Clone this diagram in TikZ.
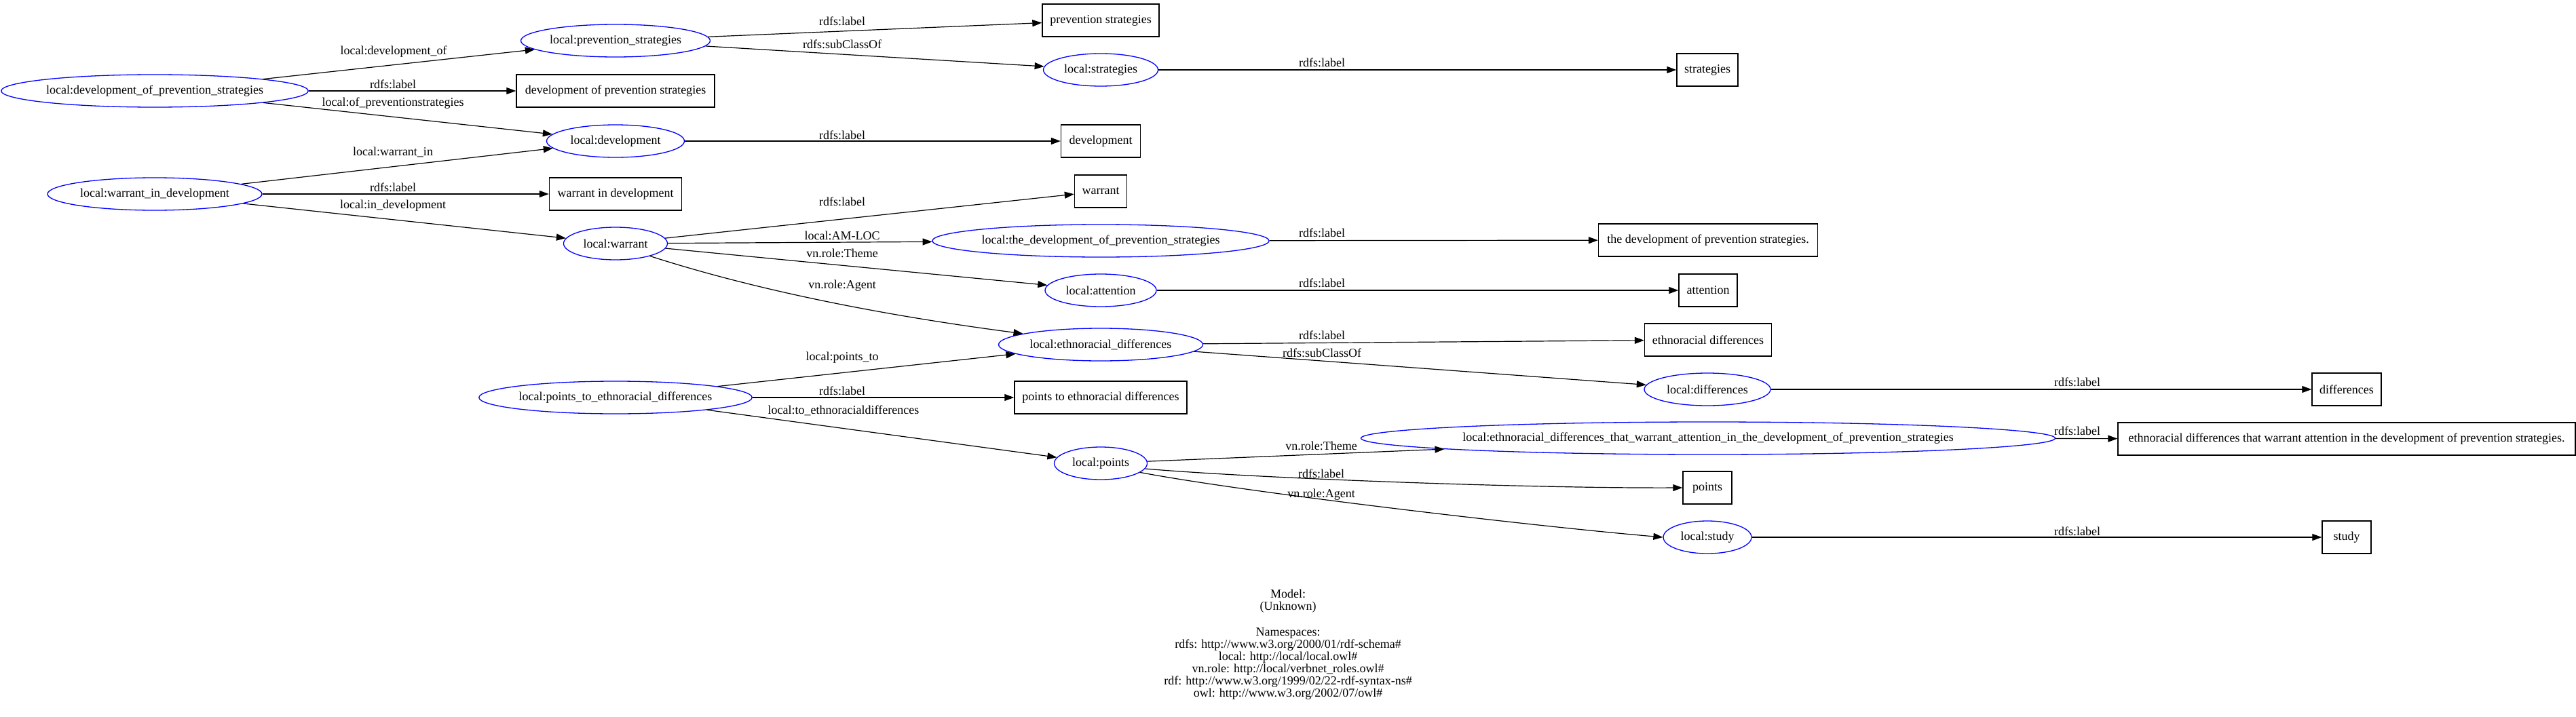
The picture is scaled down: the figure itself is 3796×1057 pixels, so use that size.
\documentclass[tikz,border=0pt]{standalone}
\usepackage{fontspec}
\setmainfont{Liberation Serif}
\usetikzlibrary{arrows.meta,shapes.geometric}
\begin{document}
\begin{tikzpicture}[x=1pt,y=-1pt,
  every node/.style={font=\fontsize{18}{18.4}\selectfont},
  res/.style={ellipse, draw=blue, line width=1.3pt, minimum height=48pt, inner sep=0pt},
  lit/.style={rectangle, draw=black, line width=1.4pt, minimum height=48pt, inner xsep=10pt, inner ysep=0pt},
  edge/.style={line width=1.2pt, -{Triangle[length=14pt,width=10pt]}},
  lbl/.style={inner sep=0pt, text height=12pt, text depth=4pt}]
\fill[white] (0,0) rectangle (3796,1057);
\useasboundingbox (0,0) rectangle (3796,1057);

% resource nodes and literals
\node[res, minimum width=444pt] (dop) at (228,134) {local:development\_of\_prevention\_strategies};
\node[lit, minimum width=292pt] (dopL) at (907,134) {development of prevention strategies};
\node[res, minimum width=279pt] (ps) at (907,60) {local:prevention\_strategies};
\node[res, minimum width=203pt] (dev) at (907,208) {local:development};
\node[res, minimum width=316pt] (wid) at (228,286) {local:warrant\_in\_development};
\node[lit, minimum width=195pt] (widL) at (907,286) {warrant in development};
\node[res, minimum width=153pt] (war) at (907,359) {local:warrant};
\node[res, minimum width=398pt] (pted) at (907,586) {local:points\_to\_ethnoracial\_differences};
\node[lit, minimum width=172pt] (psL) at (1622,30) {prevention strategies};
\node[res, minimum width=169pt] (str) at (1622,103) {local:strategies};
\node[lit, minimum width=117pt] (devL) at (1622,208) {development};
\node[lit, minimum width=77pt] (warL) at (1622,282) {warrant};
\node[res, minimum width=489pt] (tdops) at (1622,355) {local:the\_development\_of\_prevention\_strategies};
\node[res, minimum width=164pt] (att) at (1622,428) {local:attention};
\node[res, minimum width=301pt] (ed) at (1622,508) {local:ethnoracial\_differences};
\node[lit, minimum width=254pt] (ptedL) at (1622,586) {points to ethnoracial differences};
\node[res, minimum width=137pt] (pts) at (1622,683) {local:points};
\node[lit, minimum width=90pt] (strL) at (2516,103) {strategies};
\node[lit, minimum width=323pt] (tdopsL) at (2517,354) {the development of prevention strategies.};
\node[lit, minimum width=86pt] (attL) at (2517,428) {attention};
\node[lit, minimum width=187pt] (edL) at (2517,501) {ethnoracial differences};
\node[res, minimum width=186pt] (diff) at (2516,574) {local:differences};
\node[res, minimum width=972pt] (edt) at (2517,646) {local:ethnoracial\_differences\_that\_warrant\_attention\_in\_the\_development\_of\_prevention\_strategies};
\node[lit, minimum width=72pt] (ptsL) at (2516,719) {points};
\node[res, minimum width=130pt] (study) at (2516,792) {local:study};
\node[lit, minimum width=102pt] (diffL) at (3458,574) {differences};
\node[lit, minimum width=674pt] (edtL) at (3458,647) {ethnoracial differences that warrant attention in the development of prevention strategies.};
\node[lit, minimum width=72pt] (studyL) at (3458,792) {study};

% edges
\draw[edge] (dop) -- (ps);
\draw[edge] (dop) -- (dopL);
\draw[edge] (dop) -- (dev);
\draw[edge] (ps) -- (psL);
\draw[edge] (ps) -- (str);
\draw[edge] (str) -- (strL);
\draw[edge] (dev) -- (devL);
\draw[edge] (wid) -- (dev);
\draw[edge] (wid) -- (widL);
\draw[edge] (wid) -- (war);
\draw[edge] (war) -- (warL);
\draw[edge] (war) -- (tdops);
\draw[edge] (war) -- (att);
\draw[edge] (war.-20) .. controls (1130,433) and (1325,468) .. (ed.172.8);
\draw[edge] (tdops) -- (tdopsL);
\draw[edge] (att) -- (attL);
\draw[edge] (ed) -- (edL);
\draw[edge] (ed) -- (diff);
\draw[edge] (diff) -- (diffL);
\draw[edge] (pted) -- (ed);
\draw[edge] (pted) -- (ptedL);
\draw[edge] (pted) -- (pts);
\draw[edge] (pts) -- (edt);
\draw[edge] (pts.-7) .. controls (1850,705) and (2250,720) .. (ptsL.west);
\draw[edge] (pts.-13) .. controls (1830,725) and (2252,775) .. (study.west);
\draw[edge] (edt) -- (edtL);
\draw[edge] (study) -- (studyL);

% edge labels
\node[lbl] (l1) at (580,77) {local:development\_of};
\node[lbl] (l2) at (579,126) {rdfs:label};
\node[lbl] (l3) at (579,152) {local:of\_preventionstrategies};
\node[lbl] (l4) at (1241,34) {rdfs:label};
\node[lbl] (l5) at (1241,68) {rdfs:subClassOf};
\node[lbl] (l6) at (1948,95) {rdfs:label};
\node[lbl] (l7) at (1241,201) {rdfs:label};
\node[lbl] (l8) at (579,225) {local:warrant\_in};
\node[lbl] (l9) at (579,278) {rdfs:label};
\node[lbl] (l10) at (579,303) {local:in\_development};
\node[lbl] (l11) at (1241,299) {rdfs:label};
\node[lbl] (l12) at (1241,349) {local:AM-LOC};
\node[lbl] (l13) at (1241,375) {vn.role:Theme};
\node[lbl] (l14) at (1241,421) {vn.role:Agent};
\node[lbl] (l15) at (1948,345) {rdfs:label};
\node[lbl] (l16) at (1948,419) {rdfs:label};
\node[lbl] (l17) at (1948,496) {rdfs:label};
\node[lbl] (l18) at (1948,522) {rdfs:subClassOf};
\node[lbl] (l19) at (3061,565) {rdfs:label};
\node[lbl] (l20) at (1241,527) {local:points\_to};
\node[lbl] (l21) at (1241,578) {rdfs:label};
\node[lbl] (l22) at (1243,606) {local:to\_ethnoracialdifferences};
\node[lbl] (l23) at (1947,659) {vn.role:Theme};
\node[lbl] (l24) at (1947,700) {rdfs:label};
\node[lbl] (l25) at (1947,729) {vn.role:Agent};
\node[lbl] (l26) at (3061,637) {rdfs:label};
\node[lbl] (l27) at (3061,785) {rdfs:label};

% footer
\node[align=center, anchor=north, inner sep=0pt, font=\fontsize{18}{18}\selectfont] (foot) at (1898,868.5)
  {Model:\\(Unknown)\\[20pt]Namespaces:\\rdfs: http://www.w3.org/2000/01/rdf-schema\#\\local: http://local/local.owl\#\\vn.role: http://local/verbnet\_roles.owl\#\\rdf: http://www.w3.org/1999/02/22-rdf-syntax-ns\#\\owl: http://www.w3.org/2002/07/owl\#};
\end{tikzpicture}
\end{document}
